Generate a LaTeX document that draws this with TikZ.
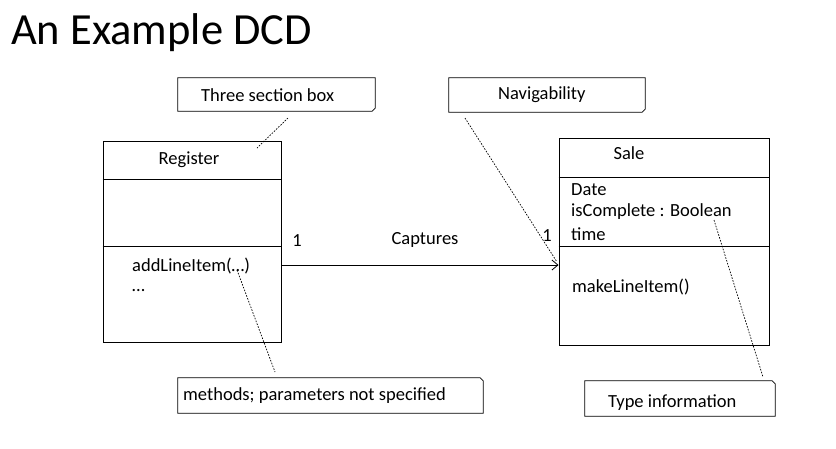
\documentclass[tikz,border=0pt]{standalone}
\usepackage{fontspec}
\setmainfont{Carlito}
\usetikzlibrary{arrows.meta}
\begin{document}
\begin{tikzpicture}[x=1pt,y=-1pt,
  txt/.style={inner sep=0pt,font=\fontsize{18.5}{22}\selectfont,anchor=west},
  cls/.style={draw,line width=0.9pt,inner sep=0pt},
  notebox/.style={inner sep=0pt},
  noteline/.style={line width=0.8pt,line join=miter},
  hint/.style={line width=0.7pt,dash pattern=on 1.6pt off 1.4pt},
  assoc/.style={line width=0.9pt,-{Straight Barb[length=6pt,width=10pt,line width=0.8pt]}}]
\useasboundingbox (0,0) rectangle (836,448);
% title
\node[inner sep=0pt,anchor=base west,font=\fontsize{44.5}{52}\selectfont] (title) at (11,44) {An Example DCD};
% Register class
\node[cls,minimum width=178pt,minimum height=201pt] (reg) at (192,241.5) {};
\draw[line width=0.9pt] ([yshift=-39pt]reg.north west) coordinate (r1l) -- ([yshift=-39pt]reg.north east) coordinate (r1r);
\draw[line width=0.9pt] ([yshift=-106pt]reg.north west) coordinate (r2l) -- ([yshift=-106pt]reg.north east) coordinate (r2r);
\node[txt,anchor=center] (regname) at (189,160) {Register};
\node[txt,anchor=base west] (regop) at (132,271) {addLineItem(…)};
\node[txt,anchor=base west] (regdots) at (132,291) {…};
% Sale class
\node[cls,minimum width=210pt,minimum height=207pt] (sale) at (664,241.5) {};
\draw[line width=0.9pt] ([yshift=-40pt]sale.north west) coordinate (s1l) -- ([yshift=-40pt]sale.north east) coordinate (s1r);
\draw[line width=0.9pt] ([yshift=-109pt]sale.north west) coordinate (s2l) -- ([yshift=-109pt]sale.north east) coordinate (s2r);
\node[txt,anchor=center] (salename) at (629,153) {Sale};
\node[txt] (a1) at (571,190) {Date};
\node[txt] (a2) at (571,212) {isComplete : Boolean};
\node[txt] (a3) at (571,234) {time};
\node[txt] (sop) at (572,287) {makeLineItem()};
% association
\coordinate (regout) at (reg.east |- 0,265);
\coordinate (salein) at (sale.west |- 0,265);
\draw[assoc] (regout) -- (salein);
\node[txt,anchor=center] (m1) at (297,241) {1};
\node[txt,anchor=center] (cap) at (425,240) {Captures};
\node[txt,anchor=center] (m2) at (547,236) {1};
% notes
\node[notebox,minimum width=197pt,minimum height=33pt] (n1) at (276.5,94.5) {};
\draw[noteline] (n1.north west) -- (n1.north east) -- ([yshift=3pt]n1.south east) -- ([xshift=-3pt]n1.south east) -- (n1.south west) -- cycle;
\node[txt] (n1t) at (201,95) {Three section box};
\node[notebox,minimum width=196pt,minimum height=34pt] (n2) at (547,95) {};
\draw[noteline] (n2.north west) -- (n2.north east) -- ([yshift=3pt]n2.south east) -- ([xshift=-3pt]n2.south east) -- (n2.south west) -- cycle;
\node[txt] (n2t) at (498,95) {Navigability};
\node[notebox,minimum width=305pt,minimum height=35pt] (n3) at (330.5,395.5) {};
\draw[noteline] (n3.north west) -- ([xshift=-3pt]n3.north east) -- ([yshift=-3pt]n3.north east) -- (n3.south east) -- (n3.south west) -- cycle;
\node[txt] (n3t) at (183,396) {methods; parameters not specified};
\node[notebox,minimum width=190pt,minimum height=35pt] (n4) at (680,398.5) {};
\draw[noteline] (n4.north west) -- ([xshift=-3pt]n4.north east) -- ([yshift=-3pt]n4.north east) -- (n4.south east) -- (n4.south west) -- cycle;
\node[txt] (n4t) at (608,403) {Type information};
% note links
\coordinate (h1a) at (288,118); \coordinate (h1b) at (257,148);
\draw[hint] (h1a) -- (h1b);
\coordinate (h2a) at (465,118); \coordinate (h2b) at (557,262);
\draw[hint] (h2a) -- (h2b);
\coordinate (h3a) at (237,270); \coordinate (h3b) at (275,372);
\draw[hint] (h3a) -- (h3b);
\coordinate (h4a) at (714,220); \coordinate (h4b) at (763,377);
\draw[hint] (h4a) -- (h4b);
\end{tikzpicture}
\end{document}
